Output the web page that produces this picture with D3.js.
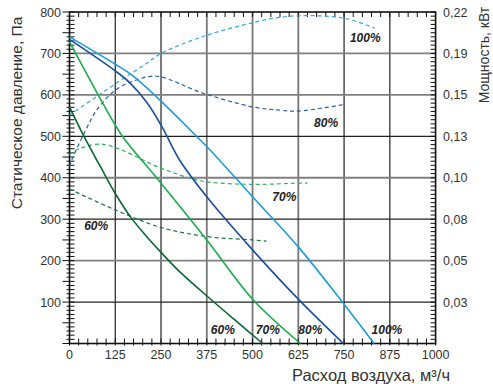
<!DOCTYPE html>
<html><head><meta charset="utf-8">
<script src="https://cdn.jsdelivr.net/npm/d3@7/dist/d3.min.js"></script>
<style>body{margin:0;background:#fff}svg{display:block}</style>
</head><body>
<svg id="c" width="493" height="384"></svg>
<script>
// ---- data ----
const xTicks = [0,125,250,375,500,625,750,875,1000];
const yTicks = [100,200,300,400,500,600,700,800];
const powerLabels = ["0,03","0,05","0,08","0,10","0,13","0,15","0,19","0,22"];

// static pressure curves (airflow m3/h, pressure Pa)
const q100 = [0,125,170,252,357,384,500,626,741,832];
const p100 = [740,674,648,583,491,467,354,232,105,0];
const q80  = [0,125,165,211,252,302,375,500,625,748];
const p80  = [734,658,629,582,524,441,354,226,107,0];
const q70  = [0,125,152,250,375,502,631];
const p70  = [728,527,491,387,250,105,0];
const q60  = [0,40,85,125,167,210,250,300,384,450,528];
const p60  = [571,499,426,362,305,259,220,174,108,58,0];

// power curves, plotted against the pressure axis (right axis labels)
const qw100 = [0,126,204,250,375,500,559,625,750,834];
const pw100 = [551,627,672,700,744,774,785,791,785,761];
const qw80  = [0,10,42,74,126,183,238,365,500,575,625,752];
const pw80  = [427,451,511,563,612,636,645,604,571,563,561,577];
const qw70  = [0,10,88,250,329,375,500,626,650];
const pw70  = [455,463,481,423,399,390,384,387,387];
const qw60  = [0,126,250,375,500,538];
const pw60  = [373,322,280,258,250,247];

const speedNames = ["100%","80%","70%","60%"];
// label anchors (airflow, pressure)
const labelQ = [766,668,554,40, 825,625,509,386];
const labelP = [728,523,345,275, 23,23,23,23];
const labelText = ["100%","80%","70%","60%","100%","80%","70%","60%"];

// ---- chart ----
const svg = d3.select("#c");
const font = "'Liberation Sans', Arial, sans-serif";
const x = d3.scaleLinear().domain([0,1000]).range([69.5,435.6]);
const y = d3.scaleLinear().domain([0,800]).range([343.5,12]);
const colors = {"100%":"#1b9ddb","80%":"#1a4f9f","70%":"#17ae4d","60%":"#0b6835"};
const dashColors = {"100%":"#35a7e0","80%":"#2760ad","70%":"#2bb65a","60%":"#137a3f"};

const g = svg.append("g");
// grid
g.selectAll(".gx").data(xTicks.slice(1,-1)).join("line")
  .attr("x1",d=>x(d)).attr("x2",d=>x(d)).attr("y1",y(800)).attr("y2",y(0))
  .attr("stroke",(d,i)=> (i>=2&&i<=4)?"#777":"#222").attr("stroke-width",(d,i)=>(i>=2&&i<=4)?1.8:1.2);
g.selectAll(".gy").data(yTicks.slice(0,-1)).join("line")
  .attr("y1",d=>y(d)).attr("y2",d=>y(d)).attr("x1",x(0)).attr("x2",x(1000))
  .attr("stroke",d=>(d%200===0||d===700)?"#808080":"#222").attr("stroke-width",d=>(d%200===0||d===700)?1.8:1.2);

// minor ticks
const tk = g.append("g").attr("stroke","#111").attr("stroke-width",1);
d3.range(0,801,10).forEach(v=>{
  const out = (v%50===0)?7:3;
  tk.append("line").attr("x1",x(0)-out).attr("x2",x(0)+5).attr("y1",y(v)).attr("y2",y(v));
  tk.append("line").attr("x1",x(1000)-5).attr("x2",x(1000)).attr("y1",y(v)).attr("y2",y(v));
});
d3.range(0,1001,25).forEach(v=>{
  tk.append("line").attr("x1",x(v)).attr("x2",x(v)).attr("y1",y(0)-5).attr("y2",y(0)+2);
  tk.append("line").attr("x1",x(v)).attr("x2",x(v)).attr("y1",y(800)).attr("y2",y(800)+5);
});

// frame
g.append("rect").attr("x",x(0)).attr("y",y(800)).attr("width",x(1000)-x(0)).attr("height",y(0)-y(800))
  .attr("fill","none").attr("stroke","#111").attr("stroke-width",1.6);

const line = d3.line().x(d=>x(d[0])).y(d=>y(d[1])).curve(d3.curveCatmullRom.alpha(0.5));
const zip = (a,b)=>a.map((v,i)=>[v,b[i]]);

const power = [[qw100,pw100],[qw80,pw80],[qw70,pw70],[qw60,pw60]];
power.forEach((s,i)=>{
  g.append("path").attr("d",line(zip(s[0],s[1]))).attr("fill","none")
   .attr("stroke",dashColors[speedNames[i]]).attr("stroke-width",1.2).attr("stroke-dasharray","4,3");
});
const press = [[q100,p100],[q80,p80],[q70,p70],[q60,p60]];
press.forEach((s,i)=>{
  g.append("path").attr("d",line(zip(s[0],s[1]))).attr("fill","none")
   .attr("stroke",colors[speedNames[i]]).attr("stroke-width",1.6);
});

// labels on curves
labelText.forEach((t,i)=>{
  g.append("text").attr("x",x(labelQ[i])).attr("y",y(labelP[i])).text(t)
   .attr("font-family",font).attr("font-size",12).attr("font-weight","bold").attr("font-style","italic").attr("fill","#222");
});

// axis tick labels
g.selectAll(".xl").data(xTicks).join("text").attr("x",d=>x(d)).attr("y",359)
  .attr("text-anchor","middle").attr("font-family",font).attr("font-size",12.5).attr("fill","#333").text(d=>d);
g.selectAll(".yl").data(yTicks).join("text").attr("x",61).attr("y",d=>y(d)+4.5)
  .attr("text-anchor","end").attr("font-family",font).attr("font-size",12.5).attr("fill","#333").text(d=>d);
g.selectAll(".pl").data(yTicks).join("text").attr("x",443).attr("y",d=>y(d)+4.5)
  .attr("font-family",font).attr("font-size",12.5).attr("fill","#333").text((d,i)=>powerLabels[i]);

// titles
svg.append("text").attr("x",450).attr("y",381).attr("text-anchor","end")
  .attr("font-family",font).attr("font-size",16.5).attr("fill","#333").text("Расход воздуха, м³/ч");
svg.append("text").attr("transform","translate(22,113) rotate(-90)").attr("text-anchor","middle")
  .attr("font-family",font).attr("font-size",15.5).attr("fill","#333").text("Статическое давление, Па");
svg.append("text").attr("transform","translate(489,55) rotate(-90)").attr("text-anchor","middle")
  .attr("font-family",font).attr("font-size",14).attr("fill","#333").text("Мощность, кВт");
</script>
</body></html>
